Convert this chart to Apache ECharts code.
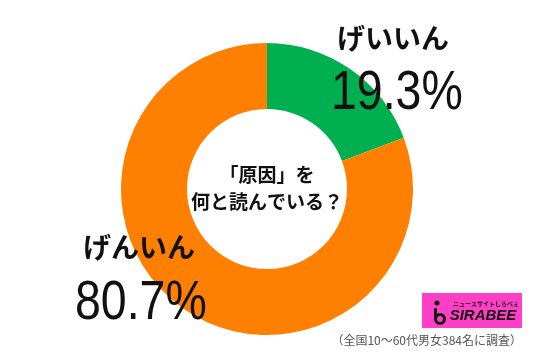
<!DOCTYPE html>
<html><head><meta charset="utf-8">
<script src="https://cdn.jsdelivr.net/npm/echarts@6/dist/echarts.min.js"></script>
<style>html,body{margin:0;padding:0;background:#fff}#c{width:550px;height:358px}</style>
</head><body><div id="c"></div>
<script>
const categories = ['げいいん', 'げんいん'];
const values = [19.3, 80.7];
const colors = ['#00b050', '#ff8000'];
const centerLines = ['「原因」を', '何と読んでいる？'];
const sourceNote = '（全国10～60代男女384名に調査）';

const chart = echarts.init(document.getElementById('c'));
const jp = '"Noto Sans CJK JP", sans-serif';
const num = '"Liberation Sans", Arial, sans-serif';
const T = (x, y, text, font, extra, el) => Object.assign({ type: 'text', z: 100, x: x, y: y,
  style: Object.assign({ text: text, font: font, fill: '#111', verticalAlign: 'top' }, extra || {}) }, el || {});
chart.setOption({
  animation: false,
  series: [{
    type: 'pie',
    radius: [80, 146],
    center: [267, 189],
    startAngle: 90,
    label: { show: false },
    labelLine: { show: false },
    emphasis: { disabled: true },
    itemStyle: { borderWidth: 0 },
    data: categories.map((c, i) => ({ name: c, value: values[i], itemStyle: { color: colors[i] } }))
  }],
  graphic: [
    T(337, 24, categories[0], 'bold 28px ' + jp),
    T(331, 66, values[0].toFixed(1) + '%', '56px ' + num, null, { scaleX: 0.83 }),
    T(83, 233, categories[1], 'bold 28px ' + jp),
    T(75, 276, values[1].toFixed(1) + '%', '56px ' + num, null, { scaleX: 0.83 }),
    T(267, 175, centerLines[0], 'bold 19px ' + jp, { align: 'center', verticalAlign: 'middle' }),
    T(267, 202, centerLines[1], 'bold 19px ' + jp, { align: 'center', verticalAlign: 'middle' }),
    { type: 'rect', z: 100, shape: { x: 422, y: 293, width: 100, height: 35 }, style: { fill: '#ff3fc6' } },
    { type: 'circle', z: 101, shape: { cx: 437, cy: 303, r: 2.5 }, style: { fill: '#111' } },
    { type: 'circle', z: 101, shape: { cx: 440, cy: 319, r: 4.5 }, style: { fill: 'none', stroke: '#111', lineWidth: 3 } },
    { type: 'line', z: 101, shape: { x1: 435.5, y1: 308, x2: 435.5, y2: 319 }, style: { stroke: '#111', lineWidth: 3 } },
    T(486, 304, 'ニュースサイトしらべぇ', 'bold 6px ' + jp, { align: 'center', verticalAlign: 'middle' }),
    T(483, 316, 'SIRABEE', 'italic bold 15px "Liberation Sans", Arial, sans-serif', { align: 'center', verticalAlign: 'middle' }),
    T(522, 340, sourceNote, '12px ' + jp, { fill: '#555', align: 'right', verticalAlign: 'middle' })
  ]
});
</script></body></html>
